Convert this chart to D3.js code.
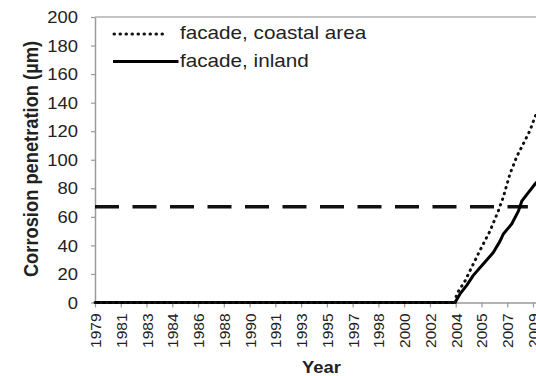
<!DOCTYPE html>
<html>
<head>
<meta charset="utf-8">
<script src="https://cdn.jsdelivr.net/npm/d3@7/dist/d3.min.js"></script>
<style>
  html, body { margin: 0; padding: 0; background: #fff; overflow: hidden; }
  svg { display: block; font-family: "Liberation Sans", Arial, sans-serif; }
</style>
</head>
<body>
<svg id="chart" width="536" height="376"></svg>
<script>
// ---- data ----
const xTickLabels = ["1979","1981","1983","1984","1986","1988","1990","1991","1993",
                     "1995","1997","1998","2000","2002","2004","2005","2007","2009"];
const yTicks = [0, 20, 40, 60, 80, 100, 120, 140, 160, 180, 200];

const coastalYears = [1979, 2003.66, 2003.77, 2004.34, 2004.91, 2005.49, 2006.05, 2006.62,
                      2006.97, 2007.42, 2007.88, 2008.45, 2008.79, 2009.14, 2009.5];
const coastalValues = [0, 0, 6, 15, 27, 39, 50, 64, 74, 90, 102, 113.5, 120.5, 130, 138];

const inlandYears = [1979, 2003.66, 2004.0, 2004.46, 2004.91, 2005.59, 2006.28, 2006.74,
                     2006.97, 2007.54, 2008.0, 2008.23, 2008.68, 2009.14, 2009.5];
const inlandValues = [0, 0, 6, 12, 19, 27, 35, 43, 48, 55, 64, 71, 77, 83, 87];

const thresholdYears = [1979, 2008.65];
const thresholdValues = [67, 67];

const seriesNames = ["facade, coastal area", "facade, inland"];
const xTitle = "Year";
const yTitle = "Corrosion penetration (µm)";

// ---- layout ----
const svg = d3.select("#chart");
const mLeft = 95, mRight = 533, mTop = 17, mBottom = 302.5;
const SX = 1.15; // horizontal text stretch seen in the reference

const x = d3.scaleLinear().domain([1979, 2009]).range([mLeft, mRight]);
const xCat = d3.scalePoint().domain(xTickLabels).range([mLeft, mRight]);
const y = d3.scaleLinear().domain([0, 200]).range([mBottom, mTop]);

const axisColor = "#9a9a9a";
const textColor = "#222";

// plot frame top line
svg.append("line").attr("x1", mLeft).attr("x2", 560).attr("y1", y(200)).attr("y2", y(200))
  .attr("stroke", "#b0b0b0").attr("stroke-width", 1.5);

// x axis
const gx = svg.append("g").attr("transform", `translate(0,${mBottom})`)
  .call(d3.axisBottom(xCat).tickSize(5).tickSizeOuter(0));
gx.select(".domain").attr("stroke", axisColor).attr("stroke-width", 1.5)
  .attr("d", `M${mLeft},0.5H560`);
gx.selectAll(".tick line").attr("stroke", axisColor).attr("stroke-width", 1.2);
gx.selectAll(".tick text")
  .attr("fill", textColor)
  .style("font-size", "15.5px")
  .attr("text-anchor", "end")
  .attr("x", 0).attr("y", 0).attr("dy", null)
  .attr("transform", "translate(5.5,11) rotate(-90)");

// y axis
const gy = svg.append("g").attr("transform", `translate(${mLeft},0)`)
  .call(d3.axisLeft(y).tickValues(yTicks).tickSize(4).tickSizeOuter(0));
gy.select(".domain").attr("stroke", axisColor).attr("stroke-width", 1.5);
gy.selectAll(".tick line").attr("stroke", axisColor).attr("stroke-width", 1.2);
gy.selectAll(".tick text")
  .attr("fill", textColor)
  .style("font-size", "16px")
  .attr("text-anchor", "end")
  .attr("x", 0).attr("dy", "0.35em")
  .attr("transform", `translate(-17,0) scale(${SX},1)`);

// axis titles
svg.append("text")
  .attr("transform", `translate(38,159) scale(${SX},1) rotate(-90)`)
  .attr("text-anchor", "middle")
  .style("font-size", "18.3px").style("font-weight", "bold")
  .attr("fill", textColor)
  .text(yTitle);

svg.append("text")
  .attr("transform", `translate(321.5,373) scale(${SX},1)`)
  .attr("text-anchor", "middle")
  .style("font-size", "16px").style("font-weight", "bold")
  .attr("fill", textColor)
  .text(xTitle);

// threshold dashed line
const line = d3.line().x(d => x(d[0])).y(d => y(d[1]));
svg.append("path")
  .datum(d3.zip(thresholdYears, thresholdValues))
  .attr("d", line)
  .attr("fill", "none").attr("stroke", "#111").attr("stroke-width", 3.5)
  .attr("stroke-dasharray", "24,13.5");

// inland solid
svg.append("path")
  .datum(d3.zip(inlandYears, inlandValues))
  .attr("d", line)
  .attr("fill", "none").attr("stroke", "#000").attr("stroke-width", 3)
  .attr("stroke-linejoin", "round");

// coastal dotted
svg.append("path")
  .datum(d3.zip(coastalYears, coastalValues))
  .attr("d", line)
  .attr("fill", "none").attr("stroke", "#111").attr("stroke-width", 3)
  .attr("stroke-linecap", "round")
  .attr("stroke-dasharray", "0.5,5.5");

// legend
const legend = svg.append("g");
legend.append("line").attr("x1", 114).attr("x2", 168).attr("y1", 34).attr("y2", 34)
  .attr("stroke", "#111").attr("stroke-width", 3)
  .attr("stroke-linecap", "round").attr("stroke-dasharray", "0.5,5.5");
legend.append("line").attr("x1", 113).attr("x2", 178.5).attr("y1", 61.5).attr("y2", 61.5)
  .attr("stroke", "#000").attr("stroke-width", 3);
legend.selectAll("text.lg").data(seriesNames).enter().append("text")
  .attr("class", "lg")
  .attr("transform", (d, i) => `translate(180,${i === 0 ? 39 : 67}) scale(${SX},1)`)
  .style("font-size", "18px")
  .attr("fill", textColor)
  .text(d => d);
</script>
</body>
</html>
